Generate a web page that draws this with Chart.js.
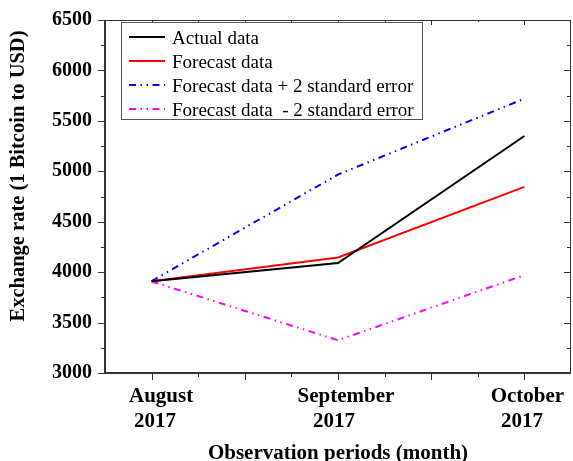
<!DOCTYPE html>
<html><head><meta charset="utf-8">
<script src="https://cdn.jsdelivr.net/npm/chart.js@4.4.1/dist/chart.umd.min.js"></script>
<style>html,body{margin:0;padding:0;background:#fff;}canvas{display:block;}</style>
</head><body>
<canvas id="c" width="573" height="461"></canvas>
<script>
const categories = ["August 2017", "September 2017", "October 2017"];
const actualData = [3910, 4090, 5350];
const forecastData = [3910, 4145, 4845];
const upperData = [3912, 4968, 5720];
const lowerData = [3908, 3325, 3970];
const seriesLabels = ["Actual data", "Forecast data", "Forecast data + 2 standard error", "Forecast data  - 2 standard error"];
const yTicks = [3000, 3500, 4000, 4500, 5000, 5500, 6000, 6500];
const yTitle = "Exchange rate (1 Bitcoin to USD)";
const xTitle = "Observation periods (month)";

const SERIF = "'Liberation Serif','Times New Roman',serif";
const DASH = [7, 4.5, 1.5, 4.5, 1.5, 4.5];
const LINE1_SHIFT = [9.5, 8, 3];
const LINE2_SHIFT = [3.5, -4, -2.5];
const toXY = arr => arr.map((v, i) => ({x: i, y: v}));

const frame = {
  id: 'frame',
  afterDraw(chart) {
    const ctx = chart.ctx, a = chart.chartArea;
    const xs = chart.scales.x, ys = chart.scales.y;
    ctx.save();
    ctx.strokeStyle = '#333';
    ctx.lineWidth = 1;
    ctx.beginPath();
    ctx.moveTo(a.left, a.top + 0.5); ctx.lineTo(a.right, a.top + 0.5);
    ctx.moveTo(a.right - 0.5, a.top); ctx.lineTo(a.right - 0.5, a.bottom);
    ctx.stroke();
    ctx.lineWidth = 2;
    ctx.beginPath();
    ctx.moveTo(a.left, a.top); ctx.lineTo(a.left, a.bottom + 1);
    ctx.moveTo(a.left - 1, a.bottom); ctx.lineTo(a.right, a.bottom);
    ctx.stroke();
    ctx.lineWidth = 1;
    ctx.beginPath();
    for (let v = ys.min; v <= ys.max; v += 250) {
      const p = Math.round(ys.getPixelForValue(v)) + 0.5;
      const len = (v % 500 === 0) ? 7 : 4;
      ctx.moveTo(a.left - len, p); ctx.lineTo(a.left, p);
      ctx.moveTo(a.right, p); ctx.lineTo(a.right - len, p);
    }
    for (let k = 0; k <= 8; k++) {
      const v = k * 0.25;
      const p = Math.round(xs.getPixelForValue(v)) + 0.5;
      const len = (k % 2 === 0) ? 7 : 4;
      ctx.moveTo(p, a.bottom); ctx.lineTo(p, a.bottom + len);
      ctx.moveTo(p, a.top); ctx.lineTo(p, a.top + len - 2);
    }
    ctx.stroke();

    // x category labels (two lines each)
    ctx.fillStyle = '#000';
    ctx.font = 'bold 21px ' + SERIF;
    ctx.textAlign = 'center';
    ctx.textBaseline = 'alphabetic';
    categories.forEach((c, i) => {
      const px = xs.getPixelForValue(i);
      const parts = c.split(' ');
      ctx.fillText(parts[0], px + LINE1_SHIFT[i], 402);
      ctx.fillText(parts[1], px + LINE2_SHIFT[i], 427);
    });

    ctx.font = 'bold 20.5px ' + SERIF;
    ctx.save();
    ctx.translate(23.5, 176);
    ctx.rotate(-Math.PI / 2);
    ctx.fillText(yTitle, 0, 0);
    ctx.restore();
    ctx.font = 'bold 21px ' + SERIF;
    ctx.fillText(xTitle, (a.left + a.right) / 2, 458.5);

    const bx = 121, by = 22, bw = 301, bh = 97;
    ctx.fillStyle = '#fff';
    ctx.fillRect(bx, by, bw, bh);
    ctx.strokeStyle = '#555';
    ctx.lineWidth = 1;
    ctx.strokeRect(bx + 0.5, by + 0.5, bw, bh);
    ctx.font = '19px ' + SERIF;
    ctx.textAlign = 'left';
    chart.data.datasets.forEach((ds, i) => {
      const ly = 37 + i * 24;
      ctx.save();
      ctx.strokeStyle = ds.borderColor;
      ctx.lineWidth = ds.borderWidth;
      ctx.setLineDash(ds.borderDash || []);
      ctx.beginPath();
      ctx.moveTo(129, ly); ctx.lineTo(165, ly);
      ctx.stroke();
      ctx.restore();
      ctx.fillStyle = '#000';
      ctx.fillText(ds.label, 172, ly + 6.5);
    });
    ctx.restore();
  }
};

new Chart(document.getElementById('c'), {
  type: 'line',
  data: {
    datasets: [
      {label: seriesLabels[0], data: toXY(actualData), borderColor: '#000000', borderWidth: 2},
      {label: seriesLabels[1], data: toXY(forecastData), borderColor: '#ff0000', borderWidth: 2},
      {label: seriesLabels[2], data: toXY(upperData), borderColor: '#0000ff', borderWidth: 2, borderDash: DASH},
      {label: seriesLabels[3], data: toXY(lowerData), borderColor: '#ff00ff', borderWidth: 2, borderDash: DASH}
    ]
  },
  options: {
    responsive: false,
    animation: false,
    devicePixelRatio: 1,
    layout: {padding: {top: 20, right: 2, bottom: 0, left: 0}},
    elements: {point: {radius: 0}, line: {tension: 0, fill: false}},
    plugins: {legend: {display: false}, tooltip: {enabled: false}},
    scales: {
      x: {
        type: 'linear', min: -0.25, max: 2.25,
        grid: {display: false, drawTicks: false},
        border: {display: false},
        afterBuildTicks: s => { s.ticks = categories.map((_, i) => ({value: i})); },
        afterFit: s => { s.height = 88; s.paddingLeft = 0; s.paddingRight = 0; },
        ticks: {display: false}
      },
      y: {
        min: 3000, max: 6500,
        grid: {display: false, drawTicks: false},
        border: {display: false},
        afterBuildTicks: s => { s.ticks = yTicks.map(v => ({value: v})); },
        afterFit: s => { s.width = 105; s.paddingTop = 0; s.paddingBottom = 0; },
        ticks: {
          padding: 13, color: '#000',
          font: {family: SERIF, size: 20, weight: 'bold'},
          callback: v => String(v)
        }
      }
    }
  },
  plugins: [frame]
});
</script>
</body></html>
